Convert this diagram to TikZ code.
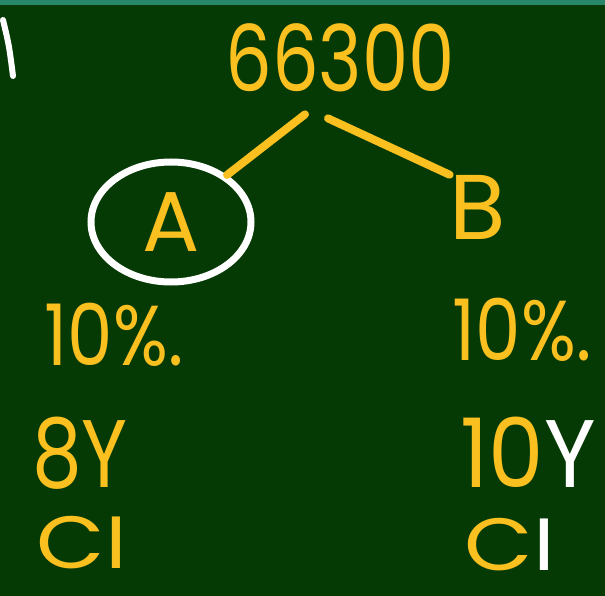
\documentclass[tikz,border=0pt]{standalone}
\usepackage{fontspec}
\setmainfont{Poppins}
\usetikzlibrary{shapes.geometric}
\definecolor{board}{RGB}{5,58,5}
\definecolor{chalk}{RGB}{249,192,32}
\definecolor{strip}{RGB}{40,135,105}

\begin{document}
\begin{tikzpicture}[x=1pt,y=-1pt,
  hand/.style={text=chalk,inner sep=0pt,font=\fontsize{#1}{#1}\selectfont},
  link/.style={chalk,line width=8pt,line cap=round}]
\fill[board] (0,0) rectangle (605,596);
\fill[strip] (0,0) rectangle (605,5);
\useasboundingbox (0,0) rectangle (605,596);
\draw[white,line width=6pt,line cap=round] (3,20) .. controls (9,45) .. (13,76);

\node[hand=92,xscale=0.8] (total) at (340,58) {66300};
\node[hand=85,ellipse,draw=white,line width=7pt,minimum width=160pt,minimum height=120pt] (A) at (171,222) {A};
\node[hand=92] (B) at (478,207) {B};
\draw[link] (total.south) ++(-35,22) -- (A.40);
\draw[link] (total.south) ++(-12,26) -- (B.north west);

\node[hand=85,xscale=0.85] (rateA) at (114,335) {10\%.};
\node[hand=85,xscale=0.85] (rateB) at (522,330) {10\%.};
\node[hand=96,xscale=0.82] (yearsA) at (80,453) {8Y};
\node[hand=96,xscale=0.92] (yearsB) at (528,452) {10\textcolor{white}{Y}};
\node[hand=74,xscale=1.2] (ciA) at (82,543) {CI};
\node[hand=74,xscale=1.2] (ciB) at (510,545) {C\textcolor{white}{I}};
\end{tikzpicture}
\end{document}
